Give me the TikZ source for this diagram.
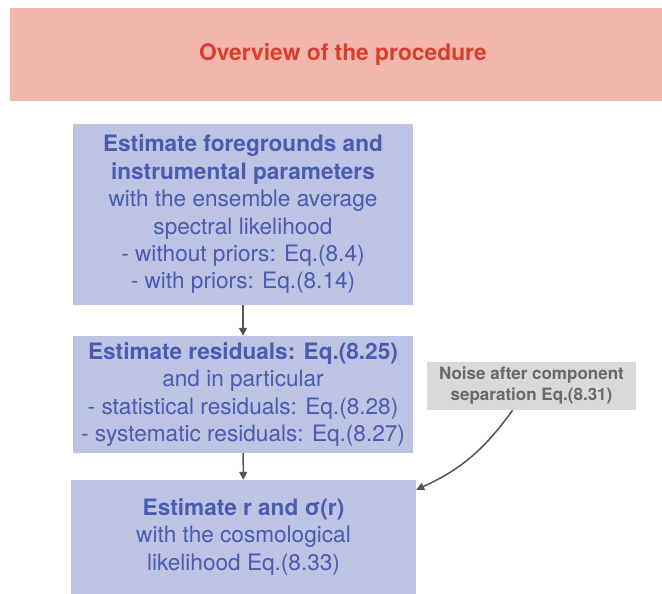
\documentclass[tikz,border=0pt]{standalone}
\usepackage{fontspec}
\setmainfont{TeX Gyre Heros}
\usetikzlibrary{arrows.meta}

\definecolor{headfill}{HTML}{F2B5AE}
\definecolor{headtext}{HTML}{D93E2A}
\definecolor{stepfill}{HTML}{BDC3E2}
\definecolor{steptext}{HTML}{4A5CB2}
\definecolor{notefill}{HTML}{D9D9D9}
\definecolor{notetext}{HTML}{696969}
\definecolor{linecol}{HTML}{555555}

\begin{document}
\begin{tikzpicture}[x=1pt,y=-1pt,
    stepbox/.style={fill=stepfill, text=steptext, align=center, inner sep=0pt,
      font=\fontsize{22.6}{27.4}\selectfont},
    notebox/.style={fill=notefill, text=notetext, align=center, inner sep=0pt,
      font=\bfseries\fontsize{17}{21}\selectfont},
    conn/.style={draw=linecol, line width=1.5pt, -{Triangle[length=8pt,width=8pt]}}]
  \useasboundingbox (0,0) rectangle (662,594);

  % Title bar
  \node (head) at (336,54.5) [fill=headfill, text=headtext, minimum width=652pt,
    minimum height=93pt, inner sep=0pt, font=\bfseries\fontsize{22.8}{26}\selectfont]
    {\hspace*{14pt}\raisebox{-3pt}{Overview of the procedure}};

  % Steps
  \node (fg) at (243,214.5) [stepbox, minimum width=340pt, minimum height=181pt]
    {\textbf{Estimate foregrounds and}\\ \textbf{instrumental parameters}\\
     with the ensemble average\\ spectral likelihood\\
     - without priors: Eq.(8.4)\\ - with priors: Eq.(8.14)};
  \node (resid) at (243,394.5) [stepbox, minimum width=340pt, minimum height=117pt]
    {\textbf{Estimate residuals: Eq.(8.25)}\\ and in particular\\
     - statistical residuals: Eq.(8.28)\\ - systematic residuals: Eq.(8.27)};
  \node (cosmo) at (243.5,537) [stepbox, minimum width=345pt, minimum height=114pt]
    {\textbf{Estimate r and σ(r)}\\ with the cosmological\\ likelihood Eq.(8.33)};

  % Side note
  \node (noise) at (531.5,386) [notebox, minimum width=209pt, minimum height=48pt]
    {Noise after component\\ separation Eq.(8.31)};

  % Arrows
  \draw[conn] (fg) -- (resid);
  \draw[conn] (resid) -- (cosmo);
  \draw[conn] ([xshift=-19pt]noise.south) to[bend left=15] ([yshift=-10pt]cosmo.north east);
\end{tikzpicture}
\end{document}
